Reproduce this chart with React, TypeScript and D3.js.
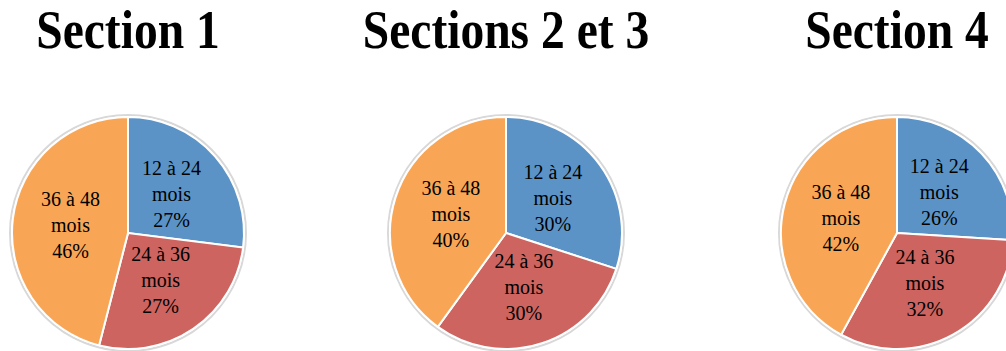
import React from "react";
import * as d3 from "d3";

const categories = ["12 à 24 mois", "24 à 36 mois", "36 à 48 mois"];
const categoryLines = [["12 à 24", "mois"], ["24 à 36", "mois"], ["36 à 48", "mois"]];
const sectionTitles = ["Section 1", "Sections 2 et 3", "Section 4"];
const section1 = [27, 27, 46];
const sections23 = [30, 30, 40];
const section4 = [26, 32, 42];
const seriesValues = [section1, sections23, section4];
const colors = ["#5b93c7", "#cd645f", "#f8a656"];

const W = 1006;
const H = 351;
const centersX = [128, 506, 897];
const centerY = 233;
const R = 116;

export default function App() {
  const pie = d3.pie<number>().sort(null).value((d) => d);
  const arc = d3.arc<d3.PieArcDatum<number>>().innerRadius(0).outerRadius(R);
  return (
    <svg
      width={W}
      height={H}
      style={{ position: "absolute", left: 0, top: 0, background: "#fff" }}
      fontFamily="'Liberation Serif', 'Times New Roman', serif"
    >
      {seriesValues.map((vals, i) => {
        const arcs = pie(vals);
        return (
          <g key={i}>
            <g transform={`translate(${centersX[i]},48) scale(0.88,1)`}>
              <text textAnchor="middle" fontSize={54} fontWeight="bold" fill="#000">
                {sectionTitles[i]}
              </text>
            </g>
            <g transform={`translate(${centersX[i]},${centerY})`}>
              <circle r={R + 2} fill="none" stroke="#d8d8d8" strokeWidth={2} />
              {arcs.map((a, j) => (
                <path key={j} d={arc(a) || ""} fill={colors[j]} stroke="#fff" strokeWidth={2} />
              ))}
              {arcs.map((a, j) => {
                const [x, y] = arc.centroid(a);
                const lines = [...categoryLines[j], `${vals[j]}%`];
                return (
                  <text key={j} textAnchor="middle" fontSize={20} fill="#000">
                    {lines.map((l, k) => (
                      <tspan key={k} x={x} y={y + 6 + (k - 1) * 26}>
                        {l}
                      </tspan>
                    ))}
                  </text>
                );
              })}
            </g>
          </g>
        );
      })}
    </svg>
  );
}
